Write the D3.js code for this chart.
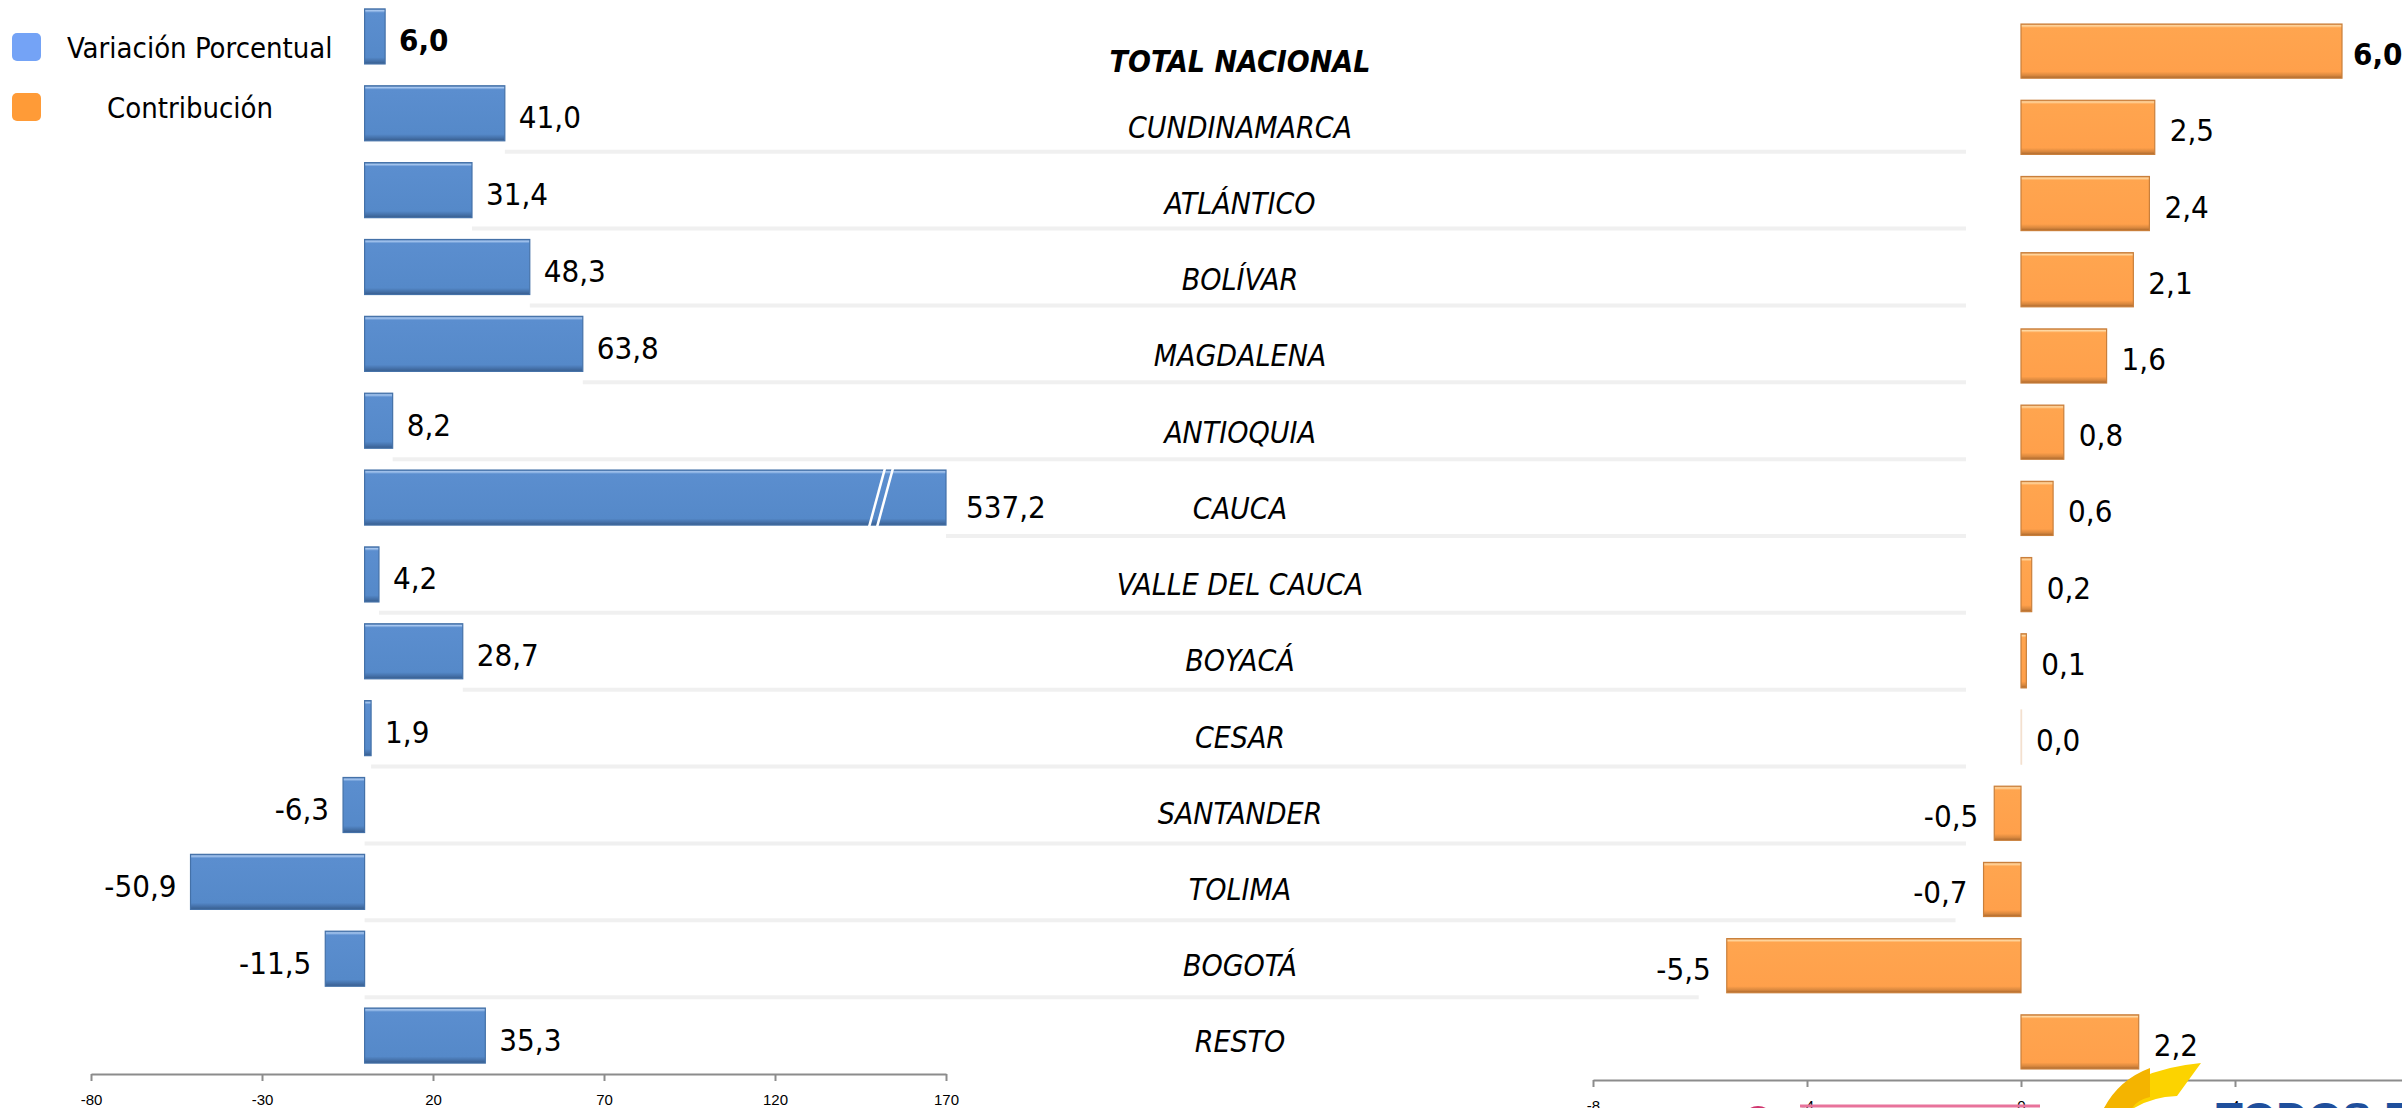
<!DOCTYPE html>
<html>
<head>
<meta charset="utf-8">
<script src="https://cdn.jsdelivr.net/npm/d3@7"></script>
<style>
  html, body { margin: 0; padding: 0; background: #fff; }
  svg { display: block; font-family: "Liberation Sans Narrow", "DejaVu Sans Condensed", "Open Sans", sans-serif; }
  .axis path, .axis line { stroke: #8c8c8c; stroke-width: 2; }
  .axis text { font-size: 15px; fill: #000; }
  .cat { font-style: italic; font-size: 30px; }
  .val { font-size: 31px; }
  .sep { stroke: #f0f0f0; stroke-width: 4; }
</style>
</head>
<body>
<svg id="chart" width="2402" height="1108"></svg>
<script>
// --- data ---------------------------------------------------------
const categories = ["TOTAL NACIONAL", "CUNDINAMARCA", "ATLÁNTICO", "BOLÍVAR", "MAGDALENA",
  "ANTIOQUIA", "CAUCA", "VALLE DEL CAUCA", "BOYACÁ", "CESAR", "SANTANDER", "TOLIMA", "BOGOTÁ", "RESTO"];
const variacion = [6.0, 41.0, 31.4, 48.3, 63.8, 8.2, 537.2, 4.2, 28.7, 1.9, -6.3, -50.9, -11.5, 35.3];
const contribucion = [6.0, 2.5, 2.4, 2.1, 1.6, 0.8, 0.6, 0.2, 0.1, 0.0, -0.5, -0.7, -5.5, 2.2];
const leftTicks = [-80, -30, 20, 70, 120, 170];
const rightTicks = [-8, -4, 0, 4, 8];
const legendLabels = ["Variación Porcentual", "Contribución"];

(function () {
  const svg = d3.select("#chart");
  // comma decimals and a plain hyphen for negatives
  const fmt = (v) => d3.format(".1f")(v).replace(".", ",").replace("\u2212", "-");
  const rows = categories.map((c, i) => ({ c, v: variacion[i], k: contribucion[i], i }));

  const xL = d3.scaleLinear().domain([-80, 170]).range([91, 946]);
  const xR = d3.scaleLinear().domain([-8, 8]).range([1593, 2449]);
  const yL = d3.scaleBand().domain(categories).range([-2, 1074]).paddingInner(0.284).paddingOuter(0.142);
  const yR = d3.scaleBand().domain(categories).range([13, 1080]).paddingInner(0.29).paddingOuter(0.145);
  const capL = d3.max(leftTicks);
  const breakAt = 151;

  // bevel-ish gradients
  const defs = svg.append("defs");
  function grad(id, stops) {
    const g = defs.append("linearGradient").attr("id", id)
      .attr("x1", 0).attr("y1", 0).attr("x2", 0).attr("y2", 1);
    stops.forEach(([o, c]) => g.append("stop").attr("offset", o).attr("stop-color", c));
  }
  grad("gBlue", [["0", "#4a79b5"], ["0.03", "#a9c8f0"], ["0.07", "#5b8ecf"], ["0.88", "#5589c9"], ["0.95", "#4470a8"], ["1", "#375c8c"]]);
  grad("gOrange", [["0", "#e08d45"], ["0.03", "#ffd9a3"], ["0.07", "#ffa54f"], ["0.88", "#ffa04b"], ["0.95", "#d8873e"], ["1", "#a8662c"]]);

  // --- separators --------------------------------------------------
  svg.append("g").selectAll("line")
    .data(rows.slice(1, rows.length - 1))
    .join("line")
    .attr("class", "sep")
    .attr("x1", (d) => xL(Math.max(0, Math.min(d.v, capL))))
    .attr("x2", (d) => Math.min(1966, xR(Math.min(0, d.k)) - 28))
    .attr("y1", (d) => yL.range()[0] + (d.i + 1) * yL.step())
    .attr("y2", (d) => yL.range()[0] + (d.i + 1) * yL.step());

  // --- left panel: variación porcentual ----------------------------
  const gl = svg.append("g");
  gl.selectAll("rect").data(rows).join("rect")
    .attr("x", (d) => xL(Math.min(0, d.v)))
    .attr("y", (d) => yL(d.c))
    .attr("width", (d) => Math.abs(xL(Math.min(d.v, capL)) - xL(0)))
    .attr("height", yL.bandwidth())
    .attr("fill", "url(#gBlue)")
    .attr("stroke", "#4471a8").attr("stroke-width", 1.2);

  // axis break on the bar that exceeds the scale
  const broken = rows.filter((d) => d.v > capL);
  broken.forEach((d) => {
    const y0 = yL(d.c), y1 = y0 + yL.bandwidth(), bx = xL(breakAt);
    [-4, 4].forEach((o) => {
      gl.append("line")
        .attr("x1", bx + o - 8).attr("y1", y1 + 2)
        .attr("x2", bx + o + 8).attr("y2", y0 - 2)
        .attr("stroke", "#fff").attr("stroke-width", 2.5);
    });
  });

  gl.selectAll("text").data(rows).join("text")
    .attr("class", "val")
    .attr("x", (d) => d.v >= 0 ? xL(Math.min(d.v, capL)) + (d.v > capL ? 20 : 14) : xL(d.v) - 14)
    .attr("y", (d) => yL(d.c) + yL.bandwidth() / 2 + 4 + (d.v > capL ? 5 : 0))
    .attr("dominant-baseline", "central")
    .attr("text-anchor", (d) => d.v >= 0 ? "start" : "end")
    .attr("font-weight", (d) => d.i === 0 ? "bold" : "normal")
    .attr("font-size", (d) => d.i === 0 ? 28 : null)
    .text((d) => fmt(d.v));

  svg.append("g").attr("class", "axis")
    .attr("transform", "translate(0,1074)")
    .call(d3.axisBottom(xL).tickValues(leftTicks).tickSize(7).tickSizeOuter(0).tickPadding(13)
      .tickFormat((d) => String(d)));

  // --- right panel: contribución -----------------------------------
  const gr = svg.append("g");
  gr.selectAll("rect").data(rows).join("rect")
    .attr("x", (d) => xR(Math.min(0, d.k)))
    .attr("y", (d) => yR(d.c))
    .attr("width", (d) => Math.max(0.6, Math.abs(xR(d.k) - xR(0))))
    .attr("height", yR.bandwidth())
    .attr("fill", "url(#gOrange)")
    .attr("stroke", (d) => d.k === 0 ? "#f3e0cf" : "#c97f3b").attr("stroke-width", 1.2);

  gr.selectAll("text").data(rows).join("text")
    .attr("class", "val")
    .attr("x", (d) => d.k >= 0 ? xR(d.k) + (d.i === 0 ? 11 : 15) : xR(d.k) - 16)
    .attr("y", (d) => yR(d.c) + yR.bandwidth() / 2 + 3)
    .attr("dominant-baseline", "central")
    .attr("text-anchor", (d) => d.k >= 0 ? "start" : "end")
    .attr("font-weight", (d) => d.i === 0 ? "bold" : "normal")
    .attr("font-size", (d) => d.i === 0 ? 24 : null)
    .text((d) => fmt(d.k));

  svg.append("g").attr("class", "axis")
    .attr("transform", "translate(0,1080)")
    .call(d3.axisBottom(xR).tickValues(rightTicks).tickSize(7).tickSizeOuter(0).tickPadding(13)
      .tickFormat((d) => String(d)));

  // --- category labels ---------------------------------------------
  svg.append("g").selectAll("text").data(rows).join("text")
    .attr("class", "cat")
    .attr("x", 1240)
    .attr("y", (d) => yR(d.c) + yR.bandwidth() / 2 + (d.i === 0 ? 10 : 0))
    .attr("dominant-baseline", "central")
    .attr("text-anchor", "middle")
    .attr("font-weight", (d) => d.i === 0 ? "bold" : "normal")
    .text((d) => d.c);

  // --- legend ------------------------------------------------------
  const legColors = ["#74a3f6", "#ff9b37"];
  const leg = svg.append("g");
  leg.selectAll("rect").data(legendLabels).join("rect")
    .attr("x", 12).attr("y", (d, i) => 33 + i * 60)
    .attr("width", 29).attr("height", 28).attr("rx", 5)
    .attr("fill", (d, i) => legColors[i]);
  leg.selectAll("text").data(legendLabels).join("text")
    .attr("x", (d, i) => i === 0 ? 67 : 107)
    .attr("y", (d, i) => 48 + i * 60)
    .attr("dominant-baseline", "central")
    .attr("font-size", 29)
    .text((d) => d);

  // --- partial logo at the bottom edge -----------------------------
  const logo = svg.append("g");
  logo.append("line").attr("x1", 1800).attr("x2", 2040).attr("y1", 1106).attr("y2", 1106)
    .attr("stroke", "#e8739b").attr("stroke-width", 3);
  logo.append("circle").attr("cx", 1758).attr("cy", 1122).attr("r", 14)
    .attr("fill", "none").attr("stroke", "#d0356e").attr("stroke-width", 4);
  logo.append("path")
    .attr("d", "M2201,1063 Q2128,1070 2103,1110 L2131,1110 Q2150,1097 2177,1096 Z")
    .attr("fill", "#fcd300");
  logo.append("path")
    .attr("d", "M2150,1068 Q2118,1080 2103,1110 L2131,1110 Q2136,1100 2150,1097 Z")
    .attr("fill", "#f4b400");
  logo.append("text").attr("x", 2216).attr("y", 1134)
    .attr("font-size", 44).attr("font-weight", "bold").attr("fill", "#1f4f9c")
    .attr("font-family", "Liberation Sans, sans-serif")
    .text("TODOS POR UN NUEVO PAÍS");
})();
</script>
</body>
</html>
